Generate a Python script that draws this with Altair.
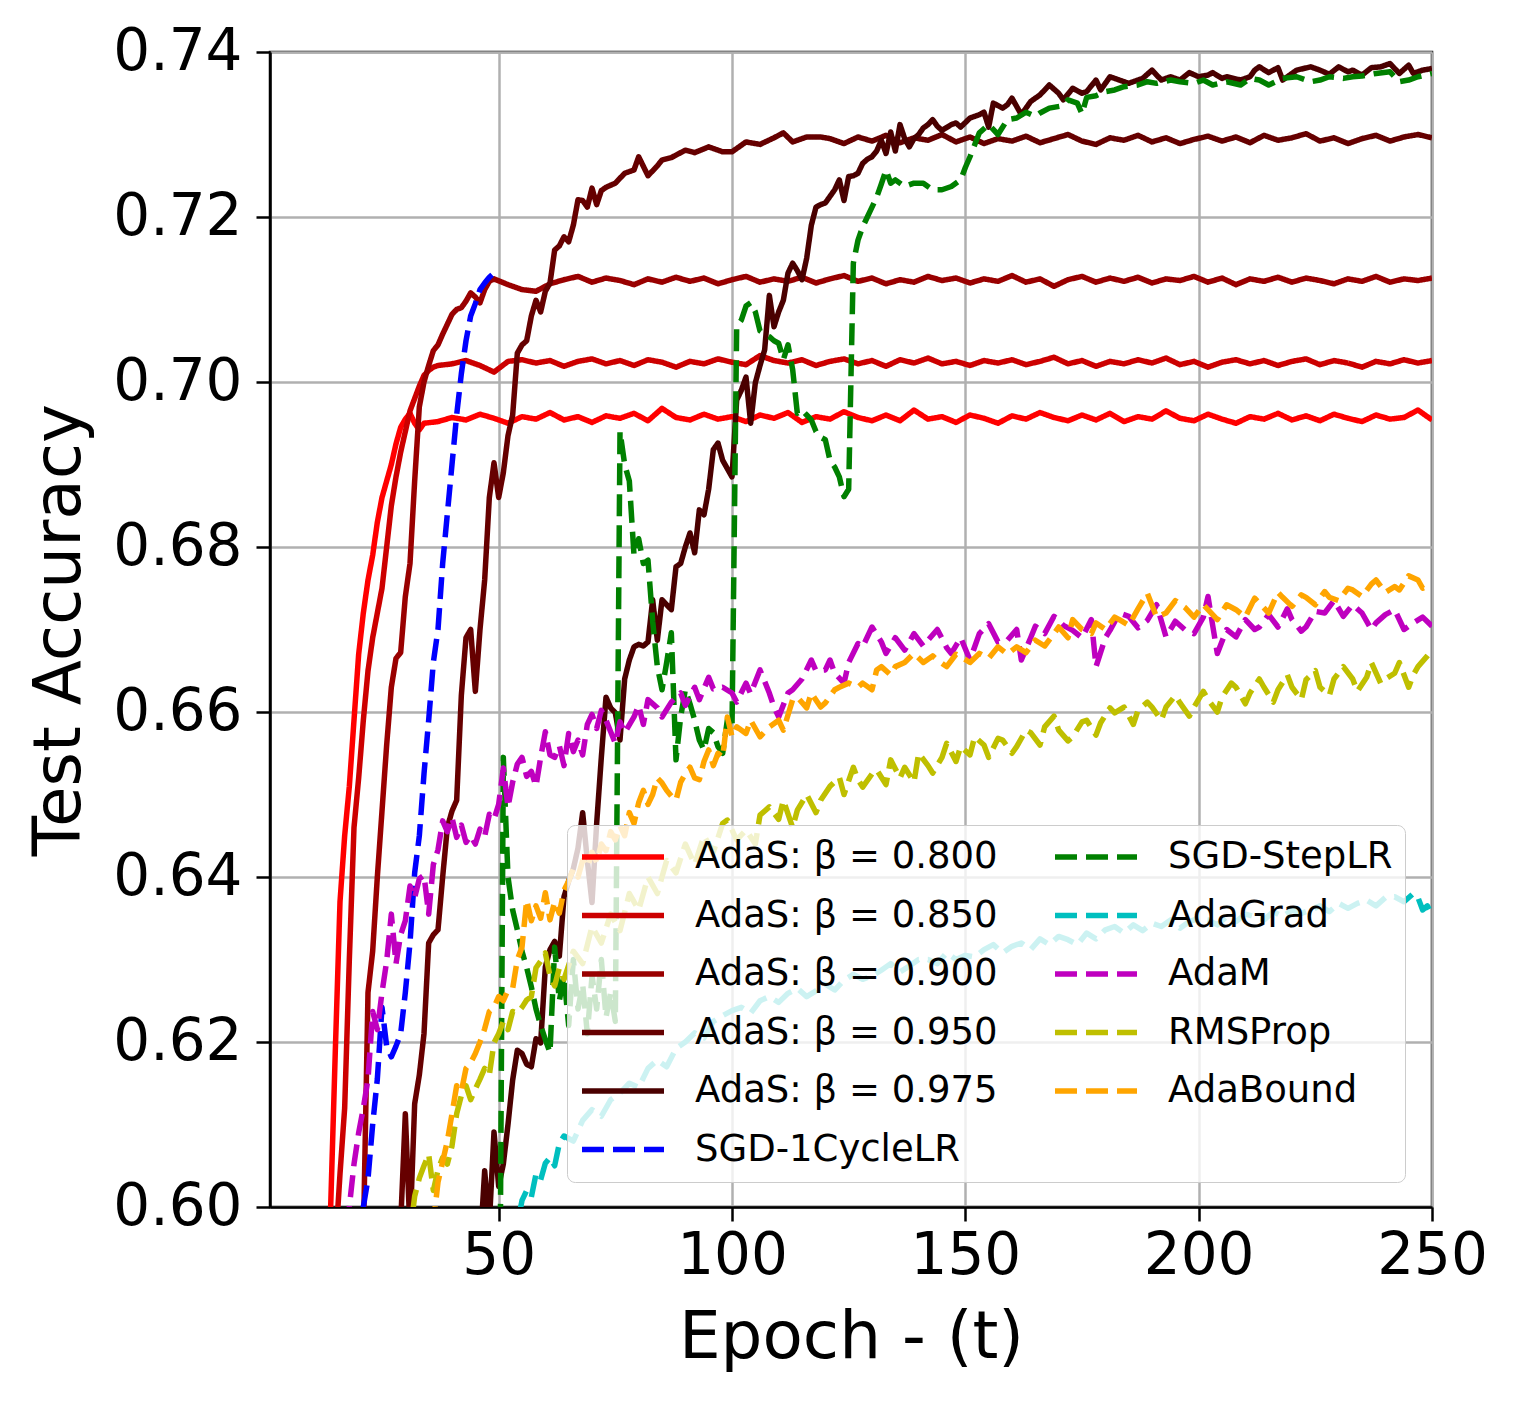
import altair as alt
import pandas as pd

# ---------------- data ----------------
# AdaS beta = 0.800
adas080_early_ep = list(range(10, 35))
adas080_early = [0.550, 0.565, 0.578, 0.589, 0.600, 0.619, 0.637, 0.645, 0.651, 0.659,
                 0.667, 0.672, 0.676, 0.679, 0.683, 0.686, 0.688, 0.690, 0.6925, 0.6945,
                 0.6955, 0.6962, 0.6950, 0.6942, 0.6950]
adas080_plat_ep = list(range(37, 251, 3))
adas080_plat = [0.6952, 0.6957, 0.6954, 0.6961, 0.6956, 0.6950, 0.6958, 0.6955, 0.6963, 0.6954,
                0.6958, 0.6951, 0.6959, 0.6956, 0.6962, 0.6953, 0.6968, 0.6957, 0.6954, 0.6961,
                0.6955, 0.6958, 0.6952, 0.6960, 0.6956, 0.6963, 0.6951, 0.6958, 0.6955, 0.6964,
                0.6957, 0.6953, 0.6960, 0.6953, 0.6966, 0.6955, 0.6958, 0.6951, 0.6960, 0.6956,
                0.6950, 0.6959, 0.6955, 0.6963, 0.6957, 0.6953, 0.6960, 0.6954, 0.6962, 0.6952,
                0.6958, 0.6955, 0.6965, 0.6956, 0.6953, 0.6961, 0.6955, 0.6950, 0.6958, 0.6955,
                0.6962, 0.6954, 0.6959, 0.6953, 0.6961, 0.6956, 0.6952, 0.6960, 0.6955, 0.6957,
                0.6966, 0.6954]

# AdaS beta = 0.850
adas085_early_ep = list(range(12, 38))
adas085_early = [0.565, 0.575, 0.585, 0.595, 0.604, 0.612, 0.630, 0.646, 0.652, 0.659,
                 0.665, 0.669, 0.672, 0.675, 0.680, 0.685, 0.6885, 0.6915, 0.694, 0.6965,
                 0.698, 0.6995, 0.7008, 0.7014, 0.7018, 0.7020]
adas085_plat_ep = list(range(40, 251, 3))
adas085_plat = [0.7022, 0.7026, 0.7020, 0.7012, 0.7025, 0.7027, 0.7023, 0.7026, 0.7019, 0.7025,
                0.7028, 0.7022, 0.7026, 0.7020, 0.7027, 0.7024, 0.7018, 0.7025, 0.7022, 0.7028,
                0.7024, 0.7021, 0.7032, 0.7026, 0.7023, 0.7027, 0.7020, 0.7025, 0.7028, 0.7022,
                0.7026, 0.7019, 0.7027, 0.7023, 0.7029, 0.7022, 0.7025, 0.7020, 0.7026, 0.7023,
                0.7027, 0.7021, 0.7025, 0.7030, 0.7022, 0.7026, 0.7019, 0.7025, 0.7022, 0.7027,
                0.7023, 0.7029, 0.7021, 0.7025, 0.7018, 0.7024, 0.7027, 0.7022, 0.7026, 0.7020,
                0.7025, 0.7028, 0.7021, 0.7026, 0.7023, 0.7018, 0.7025, 0.7022, 0.7027, 0.7023,
                0.7026]

# AdaS beta = 0.900
adas090_early_ep = list(range(20, 50))
adas090_early = [0.580, 0.596, 0.626, 0.631, 0.640, 0.648, 0.656, 0.663, 0.6665, 0.6672,
                 0.674, 0.678, 0.688, 0.697, 0.700, 0.702, 0.7038, 0.7045, 0.7058, 0.707,
                 0.7082, 0.7088, 0.709, 0.7098, 0.7108, 0.7103, 0.7096, 0.7112, 0.7122, 0.7125]
adas090_plat_ep = list(range(52, 251, 3))
adas090_plat = [0.7118, 0.7112, 0.7110, 0.7119, 0.7124, 0.7128, 0.7121, 0.7126, 0.7123, 0.7118,
                0.7125, 0.7121, 0.7127, 0.7122, 0.7126, 0.7119, 0.7124, 0.7128, 0.7121, 0.7125,
                0.7122, 0.7127, 0.7120, 0.7125, 0.7129, 0.7122, 0.7126, 0.7119, 0.7124, 0.7121,
                0.7128, 0.7123, 0.7126, 0.7120, 0.7125, 0.7122, 0.7129, 0.7121, 0.7125, 0.7116,
                0.7124, 0.7128, 0.7121, 0.7126, 0.7122, 0.7127, 0.7120, 0.7125, 0.7123, 0.7128,
                0.7121, 0.7126, 0.7118, 0.7125, 0.7122, 0.7127, 0.7121, 0.7126, 0.7123, 0.7119,
                0.7125, 0.7122, 0.7128, 0.7121, 0.7125, 0.7123, 0.7126]

# AdaS beta = 0.950
adas095_early = [(27, 0.580), (29, 0.598), (30, 0.6113), (31, 0.597), (32, 0.6125), (33, 0.616),
                 (34, 0.621), (35, 0.632), (36, 0.633), (37, 0.6336), (38, 0.640), (39, 0.646),
                 (40, 0.648), (41, 0.6493), (42, 0.662), (43, 0.669), (44, 0.670), (45, 0.6625),
                 (46, 0.670), (47, 0.676), (48, 0.686), (49, 0.6902), (50, 0.686), (51, 0.689),
                 (52, 0.6935), (53, 0.696), (54, 0.7035), (55, 0.7045), (56, 0.7050), (57, 0.708),
                 (58, 0.7099), (59, 0.7085), (60, 0.711), (61, 0.712), (62, 0.716), (63, 0.7165),
                 (64, 0.7176), (65, 0.717), (66, 0.719), (67, 0.7221), (68, 0.722), (69, 0.7212),
                 (70, 0.7235), (71, 0.7215), (72, 0.7232), (73, 0.7236), (75, 0.7241), (77, 0.7253),
                 (79, 0.7257), (80, 0.7273), (82, 0.725), (84, 0.7262), (85, 0.7269), (87, 0.7272),
                 (90, 0.7281), (92, 0.7278), (95, 0.7285), (98, 0.7279), (100, 0.7279), (103, 0.7291),
                 (106, 0.7288), (109, 0.7296), (111, 0.7302), (113, 0.7291), (116, 0.7297),
                 (119, 0.7297)]
adas095_plat_ep = list(range(121, 251, 3))
adas095_plat = [0.7295, 0.7289, 0.7297, 0.7292, 0.7299, 0.7290, 0.7296, 0.7293, 0.7300, 0.7291,
                0.7297, 0.7289, 0.7295, 0.7292, 0.7298, 0.7290, 0.7295, 0.7300, 0.7292, 0.7288,
                0.7296, 0.7293, 0.7299, 0.7291, 0.7296, 0.7289, 0.7294, 0.7298, 0.7292, 0.7297,
                0.7290, 0.7299, 0.7293, 0.7296, 0.7301, 0.7292, 0.7296, 0.7289, 0.7295, 0.7299,
                0.7292, 0.7297, 0.7300, 0.7296]

# AdaS beta = 0.975
adas0975 = [(44, 0.585), (46, 0.595), (47, 0.6044), (48, 0.598), (49, 0.6091), (50, 0.6025),
            (51, 0.6052), (52, 0.610), (53, 0.6154), (54, 0.619), (55, 0.6186), (56, 0.6173),
            (57, 0.617), (58, 0.6204), (59, 0.6199), (60, 0.6291), (61, 0.6312), (62, 0.6322),
            (63, 0.6304), (64, 0.6376), (65, 0.6395), (66, 0.641), (67, 0.6435), (68, 0.6478),
            (69, 0.6420), (70, 0.6369), (71, 0.6465), (72, 0.6545), (73, 0.6618), (74, 0.6605),
            (75, 0.6599), (76, 0.6566), (77, 0.6640), (78, 0.6663), (79, 0.6679), (80, 0.6682),
            (81, 0.6680), (82, 0.6685), (83, 0.6736), (84, 0.6687), (85, 0.6736), (86, 0.673),
            (87, 0.6724), (88, 0.6776), (89, 0.678), (90, 0.6800), (91, 0.6817), (92, 0.6793),
            (93, 0.6845), (94, 0.6839), (95, 0.6870), (96, 0.6918), (97, 0.6926), (98, 0.6905),
            (99, 0.6895), (100, 0.6885), (101, 0.6978), (102, 0.6990), (103, 0.7006), (104, 0.695),
            (105, 0.6999), (106, 0.7020), (107, 0.7039), (108, 0.7105), (109, 0.7067), (110, 0.7085),
            (111, 0.7099), (112, 0.7132), (113, 0.7144), (114, 0.7135), (115, 0.7124), (116, 0.7150),
            (117, 0.7190), (118, 0.7212), (119, 0.7215), (120, 0.7217), (121, 0.7225), (122, 0.7233),
            (123, 0.7245), (124, 0.722), (125, 0.7249), (126, 0.725), (127, 0.7253), (128, 0.7265),
            (129, 0.727), (130, 0.7273), (131, 0.7280), (132, 0.7293), (133, 0.7277), (134, 0.7303),
            (135, 0.728), (136, 0.7312), (137, 0.7295), (138, 0.7285), (139, 0.7295), (140, 0.7300),
            (141, 0.7308), (142, 0.7312), (143, 0.7318), (144, 0.7310), (145, 0.7305), (147, 0.7312),
            (148, 0.7314), (149, 0.7309), (151, 0.732), (153, 0.7324), (154, 0.7327), (155, 0.7309),
            (156, 0.7338), (158, 0.7332), (159, 0.7336), (160, 0.7344), (162, 0.7324), (164, 0.7340),
            (166, 0.7348), (168, 0.736), (170, 0.735), (171, 0.7342), (173, 0.7356), (175, 0.7350),
            (176, 0.7352), (178, 0.7366), (179, 0.7354), (181, 0.737), (183, 0.7366), (185, 0.7362),
            (188, 0.7368), (190, 0.7378), (192, 0.7366), (194, 0.7370), (196, 0.7366), (198, 0.7375),
            (200, 0.737), (202, 0.7372), (203, 0.7375), (205, 0.7368), (206, 0.737), (209, 0.7366),
            (211, 0.737), (212, 0.7378), (213, 0.7382), (215, 0.7375), (217, 0.7381), (218, 0.7366),
            (221, 0.7378), (224, 0.7382), (226, 0.7378), (228, 0.7373), (230, 0.7382), (232, 0.7376),
            (233, 0.7378), (235, 0.7372), (237, 0.7381), (239, 0.7382), (241, 0.7386), (243, 0.7374),
            (245, 0.7384), (246, 0.7374), (248, 0.7378), (250, 0.738)]

# SGD-1CycleLR
sgd_1cycle = [(19, 0.585), (20, 0.592), (21, 0.600), (22, 0.6034), (23, 0.610), (24, 0.6155),
              (25, 0.6242), (26, 0.6195), (27, 0.6182), (28, 0.6195), (29, 0.621), (30, 0.626),
              (31, 0.632), (32, 0.6405), (33, 0.645), (34, 0.6525), (35, 0.659), (36, 0.666),
              (37, 0.670), (38, 0.678), (39, 0.684), (40, 0.690), (41, 0.696), (42, 0.701),
              (43, 0.705), (44, 0.708), (45, 0.7095), (46, 0.7112), (47, 0.712), (48, 0.7127),
              (49, 0.7132), (50, 0.7133)]

# SGD-StepLR
sgd_step = [(40, 0.550), (45, 0.560), (50, 0.565), (51, 0.6545), (52, 0.640), (53, 0.636),
            (54, 0.6336), (55, 0.631), (56, 0.629), (57, 0.6267), (58, 0.624), (59, 0.622),
            (60, 0.6203), (61, 0.6187), (62, 0.6315), (63, 0.625), (64, 0.628), (65, 0.622),
            (66, 0.630), (67, 0.624), (68, 0.627), (69, 0.621), (70, 0.628), (71, 0.624),
            (72, 0.630), (73, 0.623), (74, 0.626), (75, 0.6225), (76, 0.694), (77, 0.690),
            (78, 0.688), (79, 0.679), (80, 0.681), (81, 0.678), (82, 0.6784), (83, 0.671),
            (84, 0.6655), (85, 0.6627), (86, 0.666), (87, 0.6696), (88, 0.6542), (89, 0.6594),
            (90, 0.6627), (91, 0.661), (92, 0.659), (93, 0.6566), (94, 0.6554), (95, 0.658),
            (96, 0.6575), (97, 0.6558), (98, 0.655), (99, 0.659), (100, 0.658), (101, 0.7067),
            (102, 0.7075), (103, 0.7092), (104, 0.7096), (105, 0.7085), (106, 0.7062), (107, 0.7058),
            (108, 0.7055), (109, 0.705), (110, 0.7047), (111, 0.7027), (112, 0.7045), (113, 0.7015),
            (114, 0.6962), (115, 0.6966), (116, 0.696), (117, 0.6954), (118, 0.694), (119, 0.6933),
            (120, 0.693), (121, 0.6905), (122, 0.6897), (123, 0.6885), (124, 0.6861), (125, 0.687),
            (126, 0.7144), (127, 0.7172), (128, 0.7188), (129, 0.72), (130, 0.7212), (131, 0.7224),
            (132, 0.724), (133, 0.7257), (134, 0.7241), (135, 0.7245), (137, 0.7237), (139, 0.7241),
            (141, 0.7241), (143, 0.7233), (145, 0.7233), (147, 0.7237), (149, 0.7245), (150, 0.7260),
            (151, 0.7273), (153, 0.7302), (155, 0.7312), (157, 0.730), (159, 0.7318), (161, 0.732),
            (163, 0.7327), (165, 0.7322), (166, 0.7326), (168, 0.7332), (171, 0.7335), (172, 0.7342),
            (174, 0.7338), (175, 0.7325), (176, 0.7345), (178, 0.7347), (180, 0.7352), (182, 0.7354),
            (184, 0.7358), (187, 0.736), (189, 0.7364), (191, 0.7362), (194, 0.7366), (196, 0.7364),
            (199, 0.7362), (201, 0.7366), (203, 0.736), (206, 0.7364), (209, 0.736), (211, 0.7368),
            (213, 0.7366), (215, 0.736), (218, 0.7368), (221, 0.737), (224, 0.7364), (226, 0.7366),
            (228, 0.737), (231, 0.7368), (233, 0.737), (235, 0.7371), (238, 0.7374), (241, 0.7376),
            (243, 0.7364), (245, 0.7366), (247, 0.737), (250, 0.7374)]

# AdaGrad
adagrad = [(52, 0.592), (55, 0.6008), (56, 0.6020), (57, 0.6012), (58, 0.6040), (59, 0.6033),
           (60, 0.6053), (61, 0.6060), (62, 0.6050), (63, 0.6077), (64, 0.6086), (66, 0.6080),
           (68, 0.6105), (70, 0.6118), (72, 0.6110), (74, 0.6130), (76, 0.6138), (78, 0.6150),
           (80, 0.6145), (82, 0.6168), (84, 0.6178), (86, 0.6170), (88, 0.6192), (90, 0.6200),
           (92, 0.6211), (94, 0.6205), (96, 0.6225), (98, 0.6232), (100, 0.6238), (102, 0.6242),
           (104, 0.6235), (106, 0.6250), (108, 0.6255), (110, 0.6248), (112, 0.6259), (114, 0.6265),
           (116, 0.6255), (118, 0.6262), (120, 0.6270), (122, 0.6263), (124, 0.6275), (126, 0.6282),
           (128, 0.6276), (130, 0.6280), (132, 0.6287), (134, 0.6295), (136, 0.6285), (138, 0.6292),
           (140, 0.6300), (142, 0.6300), (144, 0.6295), (146, 0.6308), (148, 0.6300), (150, 0.6305),
           (152, 0.6303), (154, 0.6312), (156, 0.6318), (158, 0.6308), (160, 0.6316), (162, 0.6320),
           (164, 0.6312), (166, 0.6325), (168, 0.6318), (170, 0.6328), (172, 0.6324), (174, 0.6318),
           (176, 0.6332), (178, 0.6325), (180, 0.6336), (182, 0.6340), (184, 0.6332), (186, 0.6342),
           (188, 0.6335), (190, 0.6344), (192, 0.6340), (194, 0.6348), (196, 0.6338), (198, 0.6346),
           (200, 0.6350), (202, 0.6348), (204, 0.6342), (206, 0.6352), (208, 0.6346), (210, 0.6355),
           (212, 0.6352), (214, 0.6348), (216, 0.6358), (218, 0.6352), (220, 0.6360), (222, 0.6356),
           (224, 0.6360), (226, 0.6365), (228, 0.6358), (230, 0.6368), (232, 0.6362), (234, 0.6368),
           (236, 0.6372), (238, 0.6365), (240, 0.6375), (242, 0.6376), (244, 0.6370), (246, 0.638),
           (247, 0.6375), (248, 0.636), (249, 0.6365), (250, 0.6355)]

# AdaM
adam = [(16, 0.590), (18, 0.600), (19, 0.6052), (20, 0.609), (21, 0.612), (22, 0.6155), (23, 0.6237),
        (24, 0.6215), (25, 0.626), (26, 0.6298), (27, 0.6355), (28, 0.6295), (29, 0.633), (30, 0.6347),
        (31, 0.6389), (32, 0.6375), (33, 0.6398), (34, 0.6402), (35, 0.6355), (36, 0.6415), (37, 0.6433),
        (38, 0.6468), (39, 0.6455), (40, 0.6472), (41, 0.6448), (42, 0.6463), (43, 0.6442), (44, 0.645),
        (45, 0.6440), (46, 0.6458), (47, 0.6449), (48, 0.6476), (49, 0.6470), (50, 0.6488), (51, 0.6532),
        (52, 0.6485), (53, 0.6515), (54, 0.6537), (55, 0.6545), (56, 0.6522), (57, 0.6528), (58, 0.6510),
        (59, 0.6545), (60, 0.6576), (61, 0.6548), (62, 0.6545), (63, 0.6559), (64, 0.6535), (65, 0.6574),
        (66, 0.6552), (67, 0.6566), (68, 0.6548), (69, 0.6585), (70, 0.6597), (71, 0.6580), (72, 0.6602),
        (73, 0.6590), (74, 0.6576), (75, 0.6562), (76, 0.6588), (77, 0.6575), (79, 0.6594), (80, 0.6608),
        (81, 0.6585), (82, 0.6615), (84, 0.6605), (85, 0.6594), (87, 0.6612), (89, 0.6623), (90, 0.6608),
        (92, 0.663), (93, 0.6615), (95, 0.6642), (96, 0.6628), (98, 0.663), (100, 0.6623), (101, 0.6612),
        (103, 0.6635), (104, 0.6622), (106, 0.6651), (108, 0.6623), (109, 0.6606), (110, 0.6594),
        (112, 0.6623), (113, 0.6627), (115, 0.6640), (117, 0.6663), (118, 0.6650), (120, 0.6651),
        (121, 0.6663), (122, 0.6647), (124, 0.6635), (125, 0.666), (127, 0.6683), (128, 0.6679),
        (130, 0.6703), (132, 0.6685), (133, 0.6671), (135, 0.6690), (137, 0.6675), (139, 0.6695),
        (141, 0.6680), (142, 0.6687), (144, 0.6700), (146, 0.6678), (147, 0.6671), (149, 0.6690),
        (151, 0.6663), (153, 0.6695), (155, 0.6707), (157, 0.6685), (159, 0.6687), (161, 0.6700),
        (162, 0.6663), (164, 0.6690), (165, 0.6704), (167, 0.6695), (169, 0.6716), (171, 0.6705),
        (173, 0.6699), (175, 0.6690), (177, 0.6712), (178, 0.6655), (180, 0.6690), (181, 0.6699),
        (183, 0.6720), (185, 0.6716), (187, 0.6702), (189, 0.6711), (191, 0.6730), (193, 0.6691),
        (195, 0.6710), (197, 0.6700), (199, 0.6695), (201, 0.6715), (202, 0.6740), (203, 0.6705),
        (204, 0.6671), (206, 0.6700), (208, 0.6691), (210, 0.6712), (212, 0.6700), (213, 0.6703),
        (215, 0.6718), (217, 0.6703), (219, 0.6725), (220, 0.6712), (222, 0.6698), (223, 0.6703),
        (225, 0.6722), (227, 0.672), (229, 0.6735), (231, 0.6716), (233, 0.6730), (235, 0.672),
        (237, 0.6700), (238, 0.6708), (240, 0.6718), (242, 0.6724), (244, 0.6700), (246, 0.6708),
        (248, 0.6715), (250, 0.6704)]

# RMSProp
rmsprop = [(30, 0.592), (32, 0.6013), (33, 0.6035), (34, 0.6050), (35, 0.6064), (36, 0.6020),
           (37, 0.6045), (38, 0.606), (39, 0.6052), (40, 0.6074), (41, 0.6113), (42, 0.6135),
           (43, 0.6147), (44, 0.6130), (45, 0.6143), (46, 0.6155), (47, 0.6168), (48, 0.6160),
           (49, 0.6199), (50, 0.6210), (51, 0.6225), (52, 0.6215), (53, 0.6237), (54, 0.6235),
           (55, 0.6242), (56, 0.6251), (57, 0.6255), (58, 0.6290), (59, 0.6298), (60, 0.6308),
           (61, 0.6280), (62, 0.6268), (63, 0.6290), (64, 0.6276), (66, 0.6310), (68, 0.6295),
           (70, 0.6340), (72, 0.6320), (74, 0.6355), (76, 0.6335), (78, 0.6380), (80, 0.6360),
           (82, 0.6400), (84, 0.6380), (86, 0.6420), (88, 0.6405), (90, 0.6440), (92, 0.6415),
           (94, 0.6450), (96, 0.6430), (98, 0.6465), (99, 0.6469), (101, 0.6445), (103, 0.6457),
           (105, 0.6440), (106, 0.6475), (108, 0.6485), (110, 0.6470), (111, 0.6493), (113, 0.6460),
           (114, 0.6481), (116, 0.6500), (118, 0.6478), (119, 0.6493), (121, 0.6510), (123, 0.6521),
           (124, 0.6500), (126, 0.6533), (127, 0.6518), (128, 0.6509), (130, 0.6525), (131, 0.653),
           (133, 0.6512), (134, 0.6542), (136, 0.6520), (137, 0.6533), (139, 0.6515), (140, 0.655),
           (142, 0.6535), (143, 0.6526), (145, 0.6545), (146, 0.6562), (148, 0.6540), (149, 0.6558),
           (151, 0.6548), (152, 0.657), (154, 0.6560), (155, 0.6545), (157, 0.6568), (158, 0.6566),
           (160, 0.6550), (161, 0.6558), (163, 0.6578), (164, 0.6575), (166, 0.6560), (167, 0.6582),
           (169, 0.6595), (170, 0.6578), (172, 0.6565), (173, 0.657), (175, 0.6588), (176, 0.659),
           (178, 0.6572), (179, 0.6587), (181, 0.6605), (182, 0.6599), (184, 0.6606), (186, 0.6585),
           (187, 0.6602), (189, 0.6612), (190, 0.6606), (192, 0.6590), (193, 0.6606), (195, 0.6620),
           (196, 0.6611), (198, 0.6595), (199, 0.6606), (201, 0.6625), (202, 0.6615), (204, 0.6600),
           (205, 0.6618), (207, 0.6635), (208, 0.663), (210, 0.6610), (211, 0.6623), (213, 0.6640),
           (214, 0.663), (216, 0.6612), (217, 0.6627), (219, 0.6645), (220, 0.6630), (222, 0.6615),
           (223, 0.6639), (225, 0.6650), (226, 0.6630), (228, 0.6620), (229, 0.6640), (231, 0.6655),
           (233, 0.6640), (234, 0.6625), (236, 0.6642), (237, 0.6660), (239, 0.6635), (240, 0.6640),
           (242, 0.6647), (243, 0.6660), (245, 0.6630), (246, 0.6645), (247, 0.6655), (249, 0.6668),
           (250, 0.6675)]

# AdaBound
adabound = [(34, 0.590), (36, 0.598), (37, 0.603), (38, 0.6055), (39, 0.6080), (40, 0.6113),
            (41, 0.6147), (42, 0.6140), (43, 0.6168), (44, 0.6175), (45, 0.6186), (46, 0.6200),
            (47, 0.6216), (48, 0.6237), (49, 0.6242), (50, 0.6255), (51, 0.6250), (52, 0.6263),
            (53, 0.6265), (54, 0.6300), (55, 0.6315), (56, 0.6372), (57, 0.6347), (58, 0.6365),
            (59, 0.6350), (60, 0.6381), (61, 0.6348), (62, 0.6370), (63, 0.6356), (64, 0.6384),
            (65, 0.6395), (66, 0.6410), (67, 0.6400), (68, 0.6420), (69, 0.6412), (70, 0.6430),
            (71, 0.6418), (72, 0.6440), (73, 0.6432), (74, 0.6455), (75, 0.6445), (76, 0.6462),
            (77, 0.6450), (78, 0.6478), (79, 0.6465), (80, 0.6490), (81, 0.6505), (82, 0.6488),
            (83, 0.6500), (84, 0.6520), (85, 0.6514), (86, 0.6505), (87, 0.6498), (88, 0.6493),
            (89, 0.6515), (90, 0.6525), (91, 0.6533), (92, 0.6520), (93, 0.6518), (94, 0.6540),
            (95, 0.6554), (96, 0.6535), (97, 0.6550), (98, 0.6545), (99, 0.6594), (100, 0.6570),
            (101, 0.6582), (103, 0.6574), (104, 0.659), (106, 0.6570), (108, 0.6582), (110, 0.659),
            (111, 0.6578), (113, 0.6615), (114, 0.6618), (116, 0.6605), (117, 0.6623), (119, 0.6606),
            (120, 0.6611), (122, 0.6627), (123, 0.663), (125, 0.6635), (127, 0.6630), (128, 0.6635),
            (130, 0.6627), (131, 0.6651), (132, 0.6655), (134, 0.6645), (135, 0.6655), (137, 0.6660),
            (139, 0.6671), (141, 0.6660), (143, 0.6668), (144, 0.6663), (146, 0.6655), (148, 0.6670),
            (149, 0.6667), (151, 0.6660), (153, 0.6671), (155, 0.6665), (157, 0.6679), (159, 0.6670),
            (161, 0.6679), (163, 0.6672), (165, 0.6687), (167, 0.6680), (169, 0.6695), (170, 0.6703),
            (172, 0.6690), (173, 0.6712), (175, 0.6700), (177, 0.6695), (178, 0.6708), (180, 0.6700),
            (182, 0.6715), (183, 0.6712), (185, 0.6705), (187, 0.6725), (189, 0.6744), (191, 0.6715),
            (193, 0.672), (195, 0.6735), (197, 0.6727), (199, 0.6715), (201, 0.6730), (202, 0.6724),
            (204, 0.6712), (206, 0.6730), (208, 0.6724), (210, 0.6715), (212, 0.6738), (213, 0.6732),
            (215, 0.6720), (217, 0.6745), (218, 0.6739), (220, 0.6728), (222, 0.6742), (223, 0.6739),
            (225, 0.6730), (227, 0.6746), (228, 0.6739), (230, 0.6735), (232, 0.6750), (233, 0.6748),
            (235, 0.6740), (237, 0.6755), (238, 0.676), (240, 0.6745), (242, 0.6752), (243, 0.6748),
            (245, 0.6765), (247, 0.676), (248, 0.6750), (250, 0.6755)]

# ---------------- series names, colours, dashes ----------------
N80 = "AdaS: β = 0.800"
N85 = "AdaS: β = 0.850"
N90 = "AdaS: β = 0.900"
N95 = "AdaS: β = 0.950"
N975 = "AdaS: β = 0.975"
CYC = "SGD-1CycleLR"
STEP = "SGD-StepLR"
AGR = "AdaGrad"
ADM = "AdaM"
RMS = "RMSProp"
ABD = "AdaBound"

series_color = {N80: "#ff0000", N85: "#cc0000", N90: "#990000", N95: "#660000", N975: "#4a0000",
                CYC: "#0000ff", STEP: "#008000", AGR: "#00bfbf", ADM: "#bf00bf", RMS: "#bfbf00",
                ABD: "#ffa500"}
SOLID = [1, 0]
DASH = [22, 9]
series_dash = {N80: SOLID, N85: SOLID, N90: SOLID, N95: SOLID, N975: SOLID,
               CYC: DASH, STEP: DASH, AGR: DASH, ADM: DASH, RMS: DASH, ABD: DASH}

# legend: two columns, filled column by column
legend_order = [N80, N85, N90, N95, N975, CYC, STEP, AGR, ADM, RMS, ABD]

# ---------------- build table (drawing order) ----------------
series_points = [
    (N80, list(zip(adas080_early_ep, adas080_early)) + list(zip(adas080_plat_ep, adas080_plat))),
    (N85, list(zip(adas085_early_ep, adas085_early)) + list(zip(adas085_plat_ep, adas085_plat))),
    (N90, list(zip(adas090_early_ep, adas090_early)) + list(zip(adas090_plat_ep, adas090_plat))),
    (N95, adas095_early + list(zip(adas095_plat_ep, adas095_plat))),
    (N975, adas0975),
    (CYC, sgd_1cycle),
    (STEP, sgd_step),
    (AGR, adagrad),
    (ADM, adam),
    (RMS, rmsprop),
    (ABD, adabound),
]
rows = []
for k, (name, pts) in enumerate(series_points):
    for ep, acc in pts:
        rows.append({"series": name, "epoch": ep, "acc": acc, "z": k})
df = pd.DataFrame(rows)

FONT = "DejaVu Sans"

legend = alt.Legend(
    title=None, orient="none", legendX=297, legendY=773, columns=2,
    symbolType="stroke", symbolSize=6724, symbolStrokeWidth=5.5,
    labelFont=FONT, labelFontSize=37, labelColor="black", labelLimit=600,
    labelOffset=28, clipHeight=40, rowPadding=18.5, columnPadding=54, padding=12,
    fillColor="rgba(255,255,255,0.8)", strokeColor="#cccccc", cornerRadius=8,
    zindex=1,
)

chart = (
    alt.Chart(df)
    .mark_line(strokeWidth=5.5, clip=True, strokeJoin="round")
    .encode(
        x=alt.X("epoch:Q",
                scale=alt.Scale(domain=[1, 250], nice=False, zero=False),
                axis=alt.Axis(values=[50, 100, 150, 200, 250], title="Epoch - (t)",
                              labelFlush=False, labelOverlap=False,
                              titlePadding=20, labelPadding=6)),
        y=alt.Y("acc:Q",
                scale=alt.Scale(domain=[0.6, 0.74], nice=False, zero=False),
                axis=alt.Axis(values=[0.60, 0.62, 0.64, 0.66, 0.68, 0.70, 0.72, 0.74],
                              format=".2f", title="Test Accuracy",
                              labelFlush=False, labelOverlap=False,
                              titlePadding=19, labelPadding=14)),
        color=alt.Color("series:N",
                        scale=alt.Scale(domain=legend_order,
                                        range=[series_color[s] for s in legend_order]),
                        legend=legend),
        strokeDash=alt.StrokeDash("series:N",
                                  scale=alt.Scale(domain=legend_order,
                                                  range=[series_dash[s] for s in legend_order]),
                                  legend=legend),
        detail="z:O",
    )
    .properties(width=1162, height=1155,
                padding={"left": 18, "top": 15, "right": 10, "bottom": 10})
    .configure_axis(
        labelFont=FONT, titleFont=FONT, labelFontSize=58, titleFontSize=66,
        labelColor="black", titleColor="black", titleFontWeight="normal",
        tickColor="black", tickSize=14, tickWidth=2.5,
        domainColor="black", domainWidth=2.5,
        gridColor="#b0b0b0", gridWidth=2.5, gridOpacity=1,
    )
    .configure_view(stroke="black", strokeWidth=2.5)
)

chart.save("out.html", embed_options={"renderer": "svg", "actions": False})
